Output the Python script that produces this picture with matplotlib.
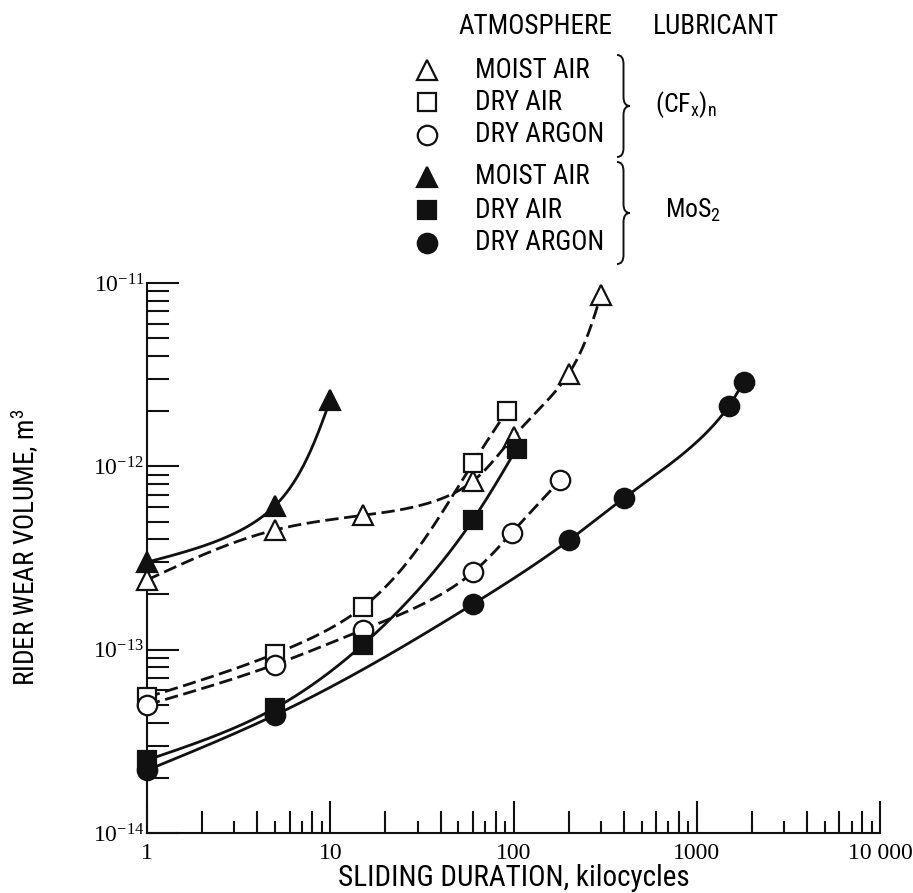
import numpy as np
import matplotlib.pyplot as plt
from matplotlib import font_manager as fm
from matplotlib.lines import Line2D
from matplotlib.patches import PathPatch
from matplotlib.path import Path
from matplotlib.ticker import FixedLocator, LogLocator, NullFormatter, NullLocator

# sliding duration (kilocycles) and rider wear volume (m^3)
cfx_moist_x = [1, 5, 15, 60, 100, 200, 300]
cfx_moist_y = [2.4e-13, 4.5e-13, 5.4e-13, 8.3e-13, 1.45e-12, 3.2e-12, 8.6e-12]
cfx_dryair_x = [1, 5, 15, 60, 92]
cfx_dryair_y = [5.5e-14, 9.5e-14, 1.7e-13, 1.04e-12, 2.0e-12]
cfx_argon_x = [1, 5, 15, 60, 98, 180]
cfx_argon_y = [5.0e-14, 8.3e-14, 1.28e-13, 2.64e-13, 4.35e-13, 8.4e-13]
mos2_moist_x = [1, 5, 10]
mos2_moist_y = [3.0e-13, 6.1e-13, 2.3e-12]
mos2_dryair_x = [1, 5, 15, 60, 104]
mos2_dryair_y = [2.5e-14, 4.8e-14, 1.06e-13, 5.1e-13, 1.25e-12]
mos2_argon_x = [1, 5, 60, 200, 400, 1500, 1800]
mos2_argon_y = [2.2e-14, 4.4e-14, 1.77e-13, 3.94e-13, 6.7e-13, 2.14e-12, 2.88e-12]

xticks = [1, 10, 100, 1000, 10000]
xticklabels = ["1", "10", "100", "1000", "10 000"]
yticks = [1e-14, 1e-13, 1e-12, 1e-11]
yticklabels = [r"$\mathregular{10^{-14}}$", r"$\mathregular{10^{-13}}$",
               r"$\mathregular{10^{-12}}$", r"$\mathregular{10^{-11}}$"]
atmospheres = ["MOIST AIR", "DRY AIR", "DRY ARGON", "MOIST AIR", "DRY AIR", "DRY ARGON"]

# pick a narrow sans like the original lettering
installed = {f.name for f in fm.fontManager.ttflist}
narrow = [n for n in ["Roboto Condensed", "PT Sans Narrow", "Archivo Narrow", "Liberation Sans Narrow",
                      "Open Sans Condensed", "Fira Sans Condensed", "IBM Plex Sans Condensed",
                      "Asap Condensed", "Encode Sans Condensed", "Barlow Semi Condensed"]
          if n in installed]
SANS = narrow[:1] + ["DejaVu Sans"]
SERIF = ["Liberation Serif", "DejaVu Serif"]
INK = "#111111"
W, H = 913, 893
FS = 19.5


def spline(t, v, tt):
    n = len(t)
    h = np.diff(t)
    A = np.zeros((n, n))
    r = np.zeros(n)
    A[0, 0] = A[-1, -1] = 1
    for i in range(1, n - 1):
        A[i, i - 1] = h[i - 1]
        A[i, i] = 2 * (h[i - 1] + h[i])
        A[i, i + 1] = h[i]
        r[i] = 6 * ((v[i + 1] - v[i]) / h[i] - (v[i] - v[i - 1]) / h[i - 1])
    m = np.linalg.solve(A, r)
    idx = np.clip(np.searchsorted(t, tt) - 1, 0, n - 2)
    t0, t1 = t[idx], t[idx + 1]
    hh = t1 - t0
    a = (t1 - tt) / hh
    b = (tt - t0) / hh
    return a * v[idx] + b * v[idx + 1] + ((a**3 - a) * m[idx] + (b**3 - b) * m[idx + 1]) * hh**2 / 6


def smooth(xs, ys):
    lx = np.log10(xs)
    ly = np.log10(ys)
    t = np.concatenate([[0], np.cumsum(np.hypot(np.diff(lx), np.diff(ly)))])
    tt = np.linspace(0, t[-1], 400)
    return 10**spline(t, lx, tt), 10**spline(t, ly, tt)


def fx(px):
    return px / W


def fy(py):
    return 1 - py / H


def brace(fig, x, yt, yb, w=13, r=9):
    ym = (yt + yb) / 2
    xm = x + w / 2
    pts = [(x, yt), (xm, yt), (xm, yt + r), (xm, ym - r), (xm, ym), (x + w, ym),
           (xm, ym), (xm, ym + r), (xm, yb - r), (xm, yb), (x, yb)]
    codes = [Path.MOVETO, Path.CURVE3, Path.CURVE3, Path.LINETO, Path.CURVE3, Path.CURVE3,
             Path.CURVE3, Path.CURVE3, Path.LINETO, Path.CURVE3, Path.CURVE3]
    path = Path([(fx(a), fy(b)) for a, b in pts], codes)
    fig.add_artist(PathPatch(path, fc="none", ec=INK, lw=1.4, transform=fig.transFigure))


fig = plt.figure(figsize=(W / 100, H / 100), dpi=100)
ax = fig.add_axes([fx(147), fy(833), (880 - 147) / W, (833 - 283) / H])
ax.set_xscale("log")
ax.set_yscale("log")
ax.set_xlim(1, 10000)
ax.set_ylim(1e-14, 1e-11)

dash = dict(ls=(0, (4.8, 2.0)), lw=2.0, color=INK)
solid = dict(ls="-", lw=2.0, color=INK)
series = [
    (cfx_moist_x, cfx_moist_y, "^", "white", dash, 15),
    (cfx_dryair_x, cfx_dryair_y, "s", "white", dash, 13),
    (cfx_argon_x, cfx_argon_y, "o", "white", dash, 14),
    (mos2_moist_x, mos2_moist_y, "^", INK, solid, 15),
    (mos2_dryair_x, mos2_dryair_y, "s", INK, solid, 13),
    (mos2_argon_x, mos2_argon_y, "o", INK, solid, 14),
]
for xs, ys, mk, fc, style, ms in series:
    sx, sy = smooth(xs, ys)
    ax.plot(sx, sy, zorder=2, **style)
for xs, ys, mk, fc, style, ms in series:
    ax.plot(xs, ys, ls="none", marker=mk, ms=ms, mfc=fc, mec=INK, mew=1.6, zorder=3, clip_on=False)

for s in ["top", "right"]:
    ax.spines[s].set_visible(False)
for s in ["left", "bottom"]:
    ax.spines[s].set_linewidth(1.5)
    ax.spines[s].set_color(INK)

ax.xaxis.set_major_locator(FixedLocator(xticks))
ax.set_xticklabels(xticklabels, family=SERIF, fontsize=17)
ax.xaxis.set_minor_locator(LogLocator(base=10, subs=(2, 4, 6, 8)))
ax.xaxis.set_minor_formatter(NullFormatter())
ax.yaxis.set_major_locator(FixedLocator(yticks))
ax.set_yticklabels(yticklabels, family=SERIF, fontsize=17)
ax.yaxis.set_minor_locator(LogLocator(base=10, subs=np.arange(2, 10)))
ax.yaxis.set_minor_formatter(NullFormatter())
ax.tick_params(which="both", direction="in", width=1.5, color=INK)
ax.tick_params(axis="x", which="major", length=23, pad=7)
ax.tick_params(axis="x", which="minor", length=16)
ax.tick_params(axis="y", which="major", length=23, pad=2)
ax.tick_params(axis="y", which="minor", length=16)

# shorter ticks for the odd sub-decades
sec = ax.secondary_xaxis("bottom")
sec.xaxis.set_major_locator(NullLocator())
sec.xaxis.set_minor_locator(LogLocator(base=10, subs=(3, 5, 7, 9)))
sec.xaxis.set_minor_formatter(NullFormatter())
sec.tick_params(which="minor", direction="in", length=9, width=1.5, color=INK)
sec.spines["bottom"].set_visible(False)

ax.set_xlabel("SLIDING DURATION, kilocycles", family=SANS, fontsize=21, labelpad=0)
ax.set_ylabel(r"RIDER WEAR VOLUME, m$^\mathregular{3}$", family=SANS, fontsize=19.5)
ax.yaxis.set_label_coords(-0.145, 0.52)

# legend block
fig.text(fx(458), fy(27), "ATMOSPHERE", family=SANS, fontsize=FS, va="center", ha="left")
fig.text(fx(653), fy(27), "LUBRICANT", family=SANS, fontsize=FS, va="center", ha="left")
rows = [70, 102, 135, 177, 210, 243]
for (xs, ys, mk, fc, style, ms), label, ry in zip(series, atmospheres, rows):
    fig.add_artist(Line2D([fx(427)], [fy(ry)], ls="none", marker=mk, ms=ms, mfc=fc, mec=INK,
                          mew=1.6, transform=fig.transFigure))
    fig.text(fx(475), fy(ry), label, family=SANS, fontsize=FS, va="center", ha="left")
brace(fig, 617, 55, 157)
brace(fig, 617, 162, 264)
fig.text(fx(655), fy(105), r"(CF$_\mathregular{x}$)$_\mathregular{n}$", family=SANS, fontsize=FS - 1,
         va="center", ha="left")
fig.text(fx(665), fy(210), r"MoS$_\mathregular{2}$", family=SANS, fontsize=FS - 1, va="center", ha="left")

fig.savefig("out.png", dpi=100, facecolor="white")
